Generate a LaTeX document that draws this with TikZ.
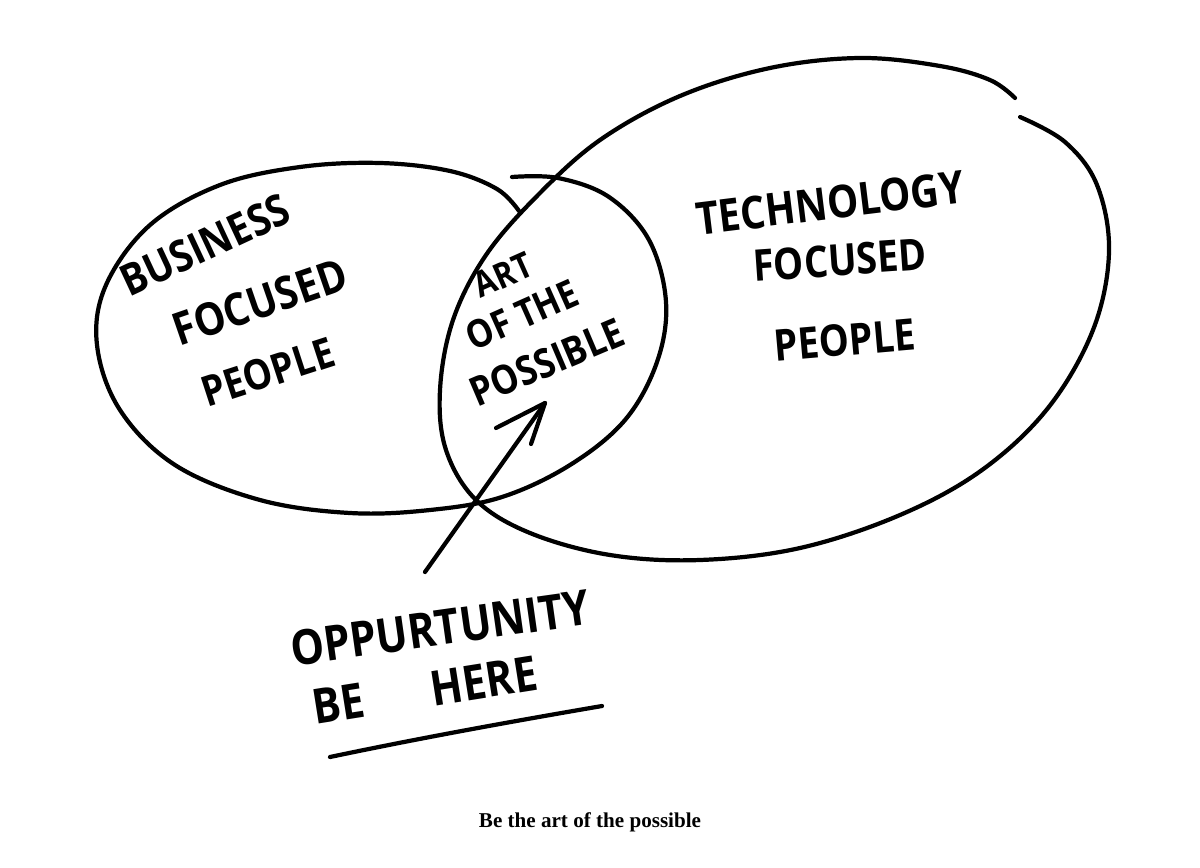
\documentclass[tikz,border=0pt]{standalone}
\usepackage{fontspec}
\newfontfamily\handfont{Open Sans}
\newfontfamily\capfont{Liberation Serif}
\tikzset{
  pen/.style={line width=3pt, line cap=round, line join=round, black},
  hand/.style={font=\handfont\bfseries\fontsize{#1}{#1}\selectfont, inner sep=0pt},
  hand/.default=26,
}
\newcommand{\tall}[1]{\scalebox{1}[1.15]{#1}}
\begin{document}
\begin{tikzpicture}[x=0.025cm,y=-0.025cm]
\fill[white] (0,0) rectangle (1200,867);
\useasboundingbox (0,0) rectangle (1200,867);

% left ellipse continuing into the middle circle (one stroke)
\draw[pen] plot[smooth, tension=0.6] coordinates {
 (519,211) (497,189) (450,171) (380,163) (300,167) (220,185) (150,225)
 (106,285) (97,345) (120,410) (175,465) (260,500) (350,513) (430,510)
 (502,497) (570,465) (625,420) (657,362) (666,302) (649,240) (609,197)
 (558,178) (512,177)};

% right ellipse, open at top right
\draw[pen] plot[smooth, tension=0.6] coordinates {
 (1020,117) (1065,142) (1097,185) (1109,252) (1093,330) (1048,408)
 (982,470) (900,515) (800,548) (700,560) (610,555) (530,533) (476,500)
 (446,450) (440,390) (453,320) (486,255) (538,195) (600,140) (680,96)
 (770,68) (860,58) (940,66) (990,80) (1015,98)};

% labels
\node[hand=27, rotate=25] (business) at (205,245) {\tall{BUSINESS}};
\node[hand=28, rotate=19] (focusedL) at (260,302) {\tall{FOCUSED}};
\node[hand=26, rotate=18] (peopleL) at (268,372) {\tall{PEOPLE}};

\node[hand=22, rotate=24] (art) at (503,275) {\tall{ART}};
\node[hand=24, rotate=24] (ofthe) at (522,315) {\tall{OF THE}};
\node[hand=25, rotate=23] (possible) at (547,362) {\tall{POSSIBLE}};

\node[hand=28, rotate=7] (technology) at (830,203) {\tall{TECHNOLOGY}};
\node[hand=27, rotate=4] (focusedR) at (840,260) {\tall{FOCUSED}};
\node[hand=27, rotate=5] (peopleR) at (845,340) {\tall{PEOPLE}};

\node[hand=30, rotate=8] (opp) at (440,628) {\tall{OPPURTUNITY}};
\node[hand=30, rotate=9] (behere) at (425,690) {\tall{BE\hspace{1.6em}HERE}};

% arrow with hand-drawn open head
\coordinate (arrowstart) at (425,572);
\coordinate (arrowtip) at (545,403);
\coordinate (headL) at (496,428);
\coordinate (headR) at (531,444);
\draw[pen] (arrowstart) -- (arrowtip);
\draw[pen] (headL) -- (arrowtip) -- (headR);

% underline
\coordinate (ulA) at (330,757);
\coordinate (ulB) at (602,706);
\draw[pen] (ulA) .. controls (420,738) and (520,720) .. (ulB);

% caption
\node[font=\capfont\bfseries\fontsize{15}{17}\selectfont] (caption) at (590,822) {Be the art of the possible};
\end{tikzpicture}
\end{document}
